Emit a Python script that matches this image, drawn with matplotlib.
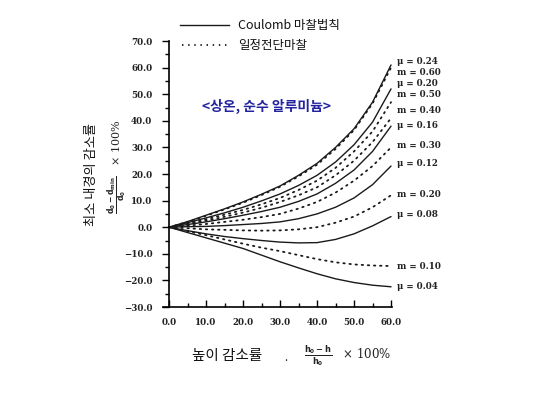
import matplotlib
matplotlib.use("Agg")
import matplotlib.pyplot as plt
import numpy as np

plt.rcParams['font.family'] = ['Noto Sans CJK KR', 'DejaVu Sans']

# ---- data ----
height_reduction = [0, 5, 10, 15, 20, 25, 30, 35, 40, 45, 50, 55, 60]

coulomb_labels = ["μ = 0.24", "μ = 0.20", "μ = 0.16", "μ = 0.12", "μ = 0.08", "μ = 0.04"]
coulomb_024 = [0, 2.1, 4.5, 6.9, 9.5, 12.4, 15.5, 19.5, 24.0, 30.0, 37.0, 47.0, 61.0]
coulomb_020 = [0, 1.7, 3.5, 5.4, 7.5, 9.9, 12.5, 15.7, 19.5, 24.5, 31.0, 39.5, 52.0]
coulomb_016 = [0, 1.0, 2.0, 3.2, 4.5, 5.9, 7.5, 9.7, 12.5, 16.5, 21.5, 28.5, 38.0]
coulomb_012 = [0, 0.2, 0.3, 0.6, 1.0, 1.4, 2.0, 3.2, 5.0, 7.5, 11.0, 16.0, 23.0]
coulomb_008 = [0, -1.3, -2.5, -3.5, -4.3, -5.0, -5.6, -5.9, -5.8, -4.6, -2.5, 0.5, 4.0]
coulomb_004 = [0, -2.0, -4.0, -6.0, -8.0, -10.5, -13.0, -15.3, -17.5, -19.4, -20.8, -21.8, -22.4]

shear_labels = ["m = 0.60", "m = 0.50", "m = 0.40", "m = 0.30", "m = 0.20", "m = 0.10"]
shear_060 = [0, 2.0, 4.3, 6.7, 9.2, 12.1, 15.2, 19.1, 23.5, 29.4, 36.5, 46.5, 60.0]
shear_050 = [0, 1.4, 3.0, 4.7, 6.5, 8.6, 11.0, 14.0, 17.5, 22.3, 28.5, 36.0, 47.0]
shear_040 = [0, 1.2, 2.5, 3.9, 5.5, 7.3, 9.5, 12.0, 15.0, 19.5, 25.0, 32.0, 41.0]
shear_030 = [0, 0.6, 1.2, 2.0, 2.8, 3.8, 5.0, 7.0, 9.5, 13.0, 17.5, 23.0, 30.0]
shear_020 = [0, -0.4, -0.8, -1.0, -1.2, -1.3, -1.2, -0.8, 0.0, 1.7, 4.0, 7.5, 12.0]
shear_010 = [0, -1.5, -3.0, -4.6, -6.2, -7.7, -9.0, -10.5, -12.0, -13.2, -14.0, -14.4, -14.6]

coulomb_series = [coulomb_024, coulomb_020, coulomb_016, coulomb_012, coulomb_008, coulomb_004]
shear_series = [shear_060, shear_050, shear_040, shear_030, shear_020, shear_010]

# right-side annotation order (top to bottom) with their vertical positions
right_labels = ["μ = 0.24", "m = 0.60", "μ = 0.20", "m = 0.50", "m = 0.40", "μ = 0.16",
                "m = 0.30", "μ = 0.12", "m = 0.20", "μ = 0.08", "m = 0.10", "μ = 0.04"]
right_label_y = [62.3, 58.2, 53.9, 49.8, 43.7, 38.4, 30.9, 24.1, 12.4, 4.9, -14.7, -22.3]

y_ticks = [70, 60, 50, 40, 30, 20, 10, 0, -10, -20, -30]
y_tick_labels = ["70.0", "60.0", "50.0", "40.0", "30.0", "20.0", "10.0", "0.0", "−10.0", "−20.0", "−30.0"]
x_ticks = [0, 10, 20, 30, 40, 50, 60]
x_tick_labels = ["0.0", "10.0", "20.0", "30.0", "40.0", "50.0", "60.0"]

# ---- figure ----
fig = plt.figure(figsize=(5.51, 3.97), dpi=100)
ax = fig.add_axes([0.2967, 0.2267, 0.415, 0.670])
ax.set_xlim(-1.5, 60.3)
ax.set_ylim(-30, 70)

ink = "#1a1a1a"
for ys in coulomb_series:
    ax.plot(height_reduction, ys, color=ink, lw=1.0, solid_capstyle='round',
            solid_joinstyle='round', clip_on=False)
for ys in shear_series:
    ax.plot(height_reduction, ys, color=ink, lw=1.3, linestyle=(0, (0.8, 2.6)),
            dash_capstyle='round', clip_on=False)

for s in ['top', 'right']:
    ax.spines[s].set_visible(False)
ax.spines['left'].set_position(('data', 0))
ax.spines['left'].set_linewidth(1.2)
ax.spines['bottom'].set_linewidth(1.2)

serif = dict(family='DejaVu Serif', weight='bold', size=6.3)
ax.set_yticks(y_ticks)
ax.set_yticklabels(y_tick_labels, fontdict=serif, color="#222")
ax.set_yticks(np.arange(-25, 70, 10), minor=True)
ax.set_xticks(x_ticks)
ax.set_xticklabels(x_tick_labels, fontdict=serif, color="#222")
ax.set_xticks(np.arange(5, 60, 10), minor=True)
ax.tick_params(axis='y', which='major', direction='out', length=5, width=1.0, pad=7)
ax.tick_params(axis='y', which='minor', direction='out', length=3, width=1.0)
ax.tick_params(axis='x', which='major', direction='in', length=5, width=1.0, pad=8)
ax.tick_params(axis='x', which='minor', direction='in', length=3, width=1.0)

# right labels
for lab, yy in zip(right_labels, right_label_y):
    ax.text(61.7, yy, lab, fontdict=serif, color="#222", va='center', ha='left', clip_on=False)

# inner title
fig.text(267/551, 1-106/397, "<상온, 순수 알루미늄>", ha='center', va='center',
         fontsize=10, color="#2323a0", weight='bold',
         family=['Noto Sans CJK KR', 'DejaVu Sans'])

# legend (drawn manually at top)
fig.add_artist(plt.Line2D([180/551, 229/551], [1-25/397, 1-25/397], color=ink, lw=1.0))
fig.add_artist(plt.Line2D([182/551, 229/551], [1-45/397, 1-45/397], color=ink, lw=1.3,
                          linestyle=(0, (0.8, 2.6))))
fig.text(238/551, 1-25/397, "Coulomb 마찰법칙", fontsize=9, va='center', ha='left',
         color="#111", weight='medium')
fig.text(238/551, 1-45/397, "일정전단마찰", fontsize=9, va='center', ha='left',
         color="#111", weight='medium')

# y label
fig.text(91/551, 1-175/397, "최소 내경의 감소률", rotation=90, fontsize=9.5, va='center',
         ha='center', color="#111")
fig.text(117/551, 1-167/397, r"$\frac{\mathbf{d_0 - d_{min}}}{\mathbf{d_0}}$   × 100%", rotation=90,
         fontsize=8, va='center', ha='center', color="#222", family='DejaVu Serif')

# x label
fig.text(192/551, 1-356/397, "높이 감소률", fontsize=10.5, va='center', ha='left', color="#111")
fig.text(284/551, 1-358/397, ".", fontsize=8, va='center', ha='left', color="#222")
fig.text(304/551, 1-356/397, r"$\frac{\mathbf{h_0 - h}}{\mathbf{h_0}}$   × 100%",
         fontsize=8.5, va='center', ha='left', color="#222", family='DejaVu Serif')

fig.savefig("out.png", dpi=100, facecolor='white')
